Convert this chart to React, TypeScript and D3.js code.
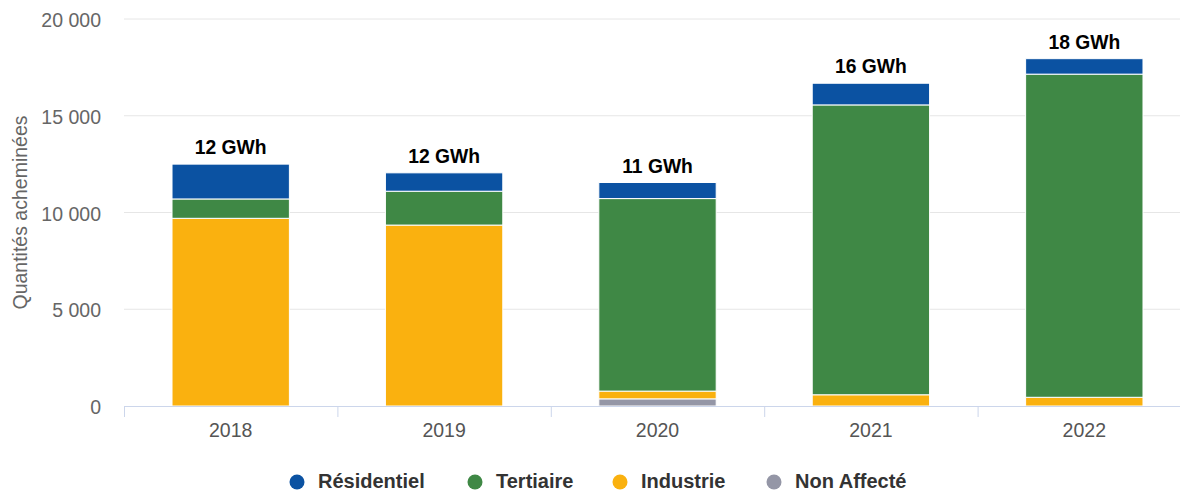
import React from "react";
import * as d3 from "d3";

const years = ["2018", "2019", "2020", "2021", "2022"];
const residentiel = [1800, 950, 830, 1120, 800];
const tertiaire = [1000, 1750, 9950, 14980, 16700];
const industrie = [9700, 9350, 400, 580, 450];
const nonAffecte = [0, 0, 370, 0, 0];
const totalLabels = ["12 GWh", "12 GWh", "11 GWh", "16 GWh", "18 GWh"];
const yTicks = [0, 5000, 10000, 15000, 20000];

const seriesNames = ["Non Affecté", "Industrie", "Tertiaire", "Résidentiel"];
const seriesColors = ["#9496A6", "#FAB10F", "#3F8845", "#0B52A2"];
const legendOrder = ["Résidentiel", "Tertiaire", "Industrie", "Non Affecté"];

const W = 1180;
const H = 491;
const left = 124;
const right = 1191;
const top = 19;
const bottom = 406;

export default function App() {
  const data = years.map((y, i) => ({
    year: y,
    "Non Affecté": nonAffecte[i],
    Industrie: industrie[i],
    Tertiaire: tertiaire[i],
    "Résidentiel": residentiel[i],
  }));
  const stack = d3.stack<any>().keys(seriesNames)(data);
  const x = d3.scaleBand().domain(years).range([left, right]).paddingInner(0.45).paddingOuter(0.225);
  const xb = d3.scaleBand().domain(years).range([left, right]);
  const y = d3.scaleLinear().domain([0, 20000]).range([bottom, top]);
  const fmt = (v: number) => d3.format(",")(v).replace(/,/g, " ");
  const font = "'Liberation Sans', Arial, sans-serif";
  const legendX = [297, 475, 620, 774];

  return (
    <svg width={W} height={H} style={{ position: "absolute", left: 0, top: 0, fontFamily: font }}>
      <rect width={W} height={H} fill="#fff" />
      {yTicks.map((t) => (
        <g key={t}>
          {t > 0 && <line x1={left} x2={W} y1={y(t)} y2={y(t)} stroke="#e6e6e6" strokeWidth={1} />}
          <text x={101} y={y(t) + 8} textAnchor="end" fontSize={19.5} fill="#666">
            {fmt(t)}
          </text>
        </g>
      ))}
      <text
        transform={`translate(27,${(top + bottom) / 2}) rotate(-90)`}
        textAnchor="middle"
        fontSize={19.5}
        fill="#666"
      >
        Quantités acheminées
      </text>
      {stack.map((s, si) => (
        <g key={s.key}>
          {s.map((d, i) =>
            d[1] - d[0] > 0 ? (
              <rect
                key={i}
                x={x(years[i])!}
                width={x.bandwidth()}
                y={y(d[1])}
                height={y(d[0]) - y(d[1])}
                fill={seriesColors[si]}
                stroke="#fff"
                strokeWidth={1}
              />
            ) : null
          )}
        </g>
      ))}
      <line x1={left} x2={W} y1={bottom + 0.5} y2={bottom + 0.5} stroke="#ccd6eb" strokeWidth={1} />
      {years.map((yr) => (
        <line
          key={yr}
          x1={xb(yr)! + 0.5}
          x2={xb(yr)! + 0.5}
          y1={bottom}
          y2={bottom + 11}
          stroke="#ccd6eb"
          strokeWidth={1}
        />
      ))}
      {years.map((yr) => (
        <text
          key={yr}
          x={xb(yr)! + xb.bandwidth() / 2}
          y={437}
          textAnchor="middle"
          fontSize={19.5}
          fill="#555"
        >
          {yr}
        </text>
      ))}
      {years.map((yr, i) => {
        const tot = residentiel[i] + tertiaire[i] + industrie[i] + nonAffecte[i];
        return (
          <text
            key={yr}
            x={xb(yr)! + xb.bandwidth() / 2}
            y={y(tot) - 10}
            textAnchor="middle"
            fontSize={19.3}
            fontWeight="bold"
            fill="#000"
          >
            {totalLabels[i]}
          </text>
        );
      })}
      {legendOrder.map((n, i) => (
        <g key={n}>
          <circle cx={legendX[i]} cy={482} r={7.5} fill={seriesColors[seriesNames.indexOf(n)]} />
          <text x={legendX[i] + 21} y={488} fontSize={20} fontWeight="bold" fill="#333">
            {n}
          </text>
        </g>
      ))}
    </svg>
  );
}
